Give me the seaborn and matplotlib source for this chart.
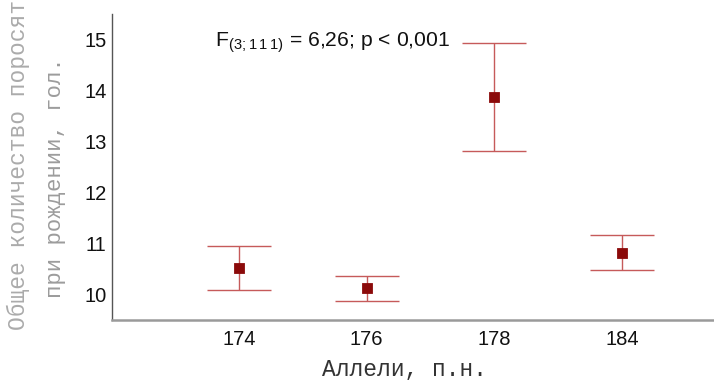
import matplotlib
matplotlib.use("Agg")
import matplotlib.pyplot as plt
import seaborn as sns
import pandas as pd

# Mean litter size at birth by microsatellite allele, with 95% CI bounds
alleles = ["174", "176", "178", "184"]
means = [10.51, 10.12, 13.88, 10.82]
ci_low = [10.08, 9.88, 12.82, 10.49]
ci_high = [10.96, 10.37, 14.94, 11.16]
y_ticks = [10, 11, 12, 13, 14, 15]

df = pd.DataFrame({"allele": alleles, "mean": means, "lo": ci_low, "hi": ci_high})

sns.set_theme(style="white")
plt.rcParams["font.family"] = ["Liberation Sans", "DejaVu Sans"]

fig = plt.figure(figsize=(7.14, 3.81), dpi=100)
ax = fig.add_axes([112 / 714, 61 / 381, 602 / 714, 306 / 381])

err_color = "#c65a5a"
pos = range(len(df))
ax.vlines(pos, df["lo"], df["hi"], color=err_color, lw=1.0, zorder=2)
ax.hlines(df["lo"], [p - 0.25 for p in pos], [p + 0.25 for p in pos], color=err_color, lw=1.0, zorder=2)
ax.hlines(df["hi"], [p - 0.25 for p in pos], [p + 0.25 for p in pos], color=err_color, lw=1.0, zorder=2)

sns.pointplot(data=df, x="allele", y="mean", order=alleles, errorbar=None,
              linestyle="none", marker="s", markersize=6, color="#8b0a0a", ax=ax, zorder=3)

ax.set_xlim(-0.995, 3.72)
ax.set_ylim(9.5, 15.5)
ax.set_yticks(y_ticks)
ax.set_xlabel("")
ax.set_ylabel("")

ax.tick_params(axis="both", length=0, labelsize=14.5, colors="#111111")
ax.tick_params(axis="y", pad=4)
ax.tick_params(axis="x", pad=7)

for side in ("top", "right"):
    ax.spines[side].set_visible(False)
ax.spines["left"].set_color("#555555")
ax.spines["left"].set_linewidth(1.0)
ax.spines["bottom"].set_color("#9a9a9a")
ax.spines["bottom"].set_linewidth(1.8)

ax.text(0.171, 0.905, r"F$_{\mathregular{(3;1\,1\,1)}}$ = 6,26; p < 0,001",
        transform=ax.transAxes, ha="left", va="center", fontsize=15.2, color="#111111")

mono = ["Liberation Mono", "DejaVu Sans Mono"]
fig.text(18 / 714, 1 - 165 / 381, "Общее количество поросят", rotation=90,
         ha="center", va="center", fontsize=16.5, family=mono, color="#ababab")
fig.text(55 / 714, 1 - 178 / 381, "при рождении, гол.", rotation=90,
         ha="center", va="center", fontsize=16, family=mono, color="#9c9c9c")
fig.text(404 / 714, 1 - 376 / 381, "Аллели, п.н.", ha="center", va="baseline",
         fontsize=16.5, family=mono, color="#333333")

fig.savefig("out.png", dpi=100, facecolor="white")
